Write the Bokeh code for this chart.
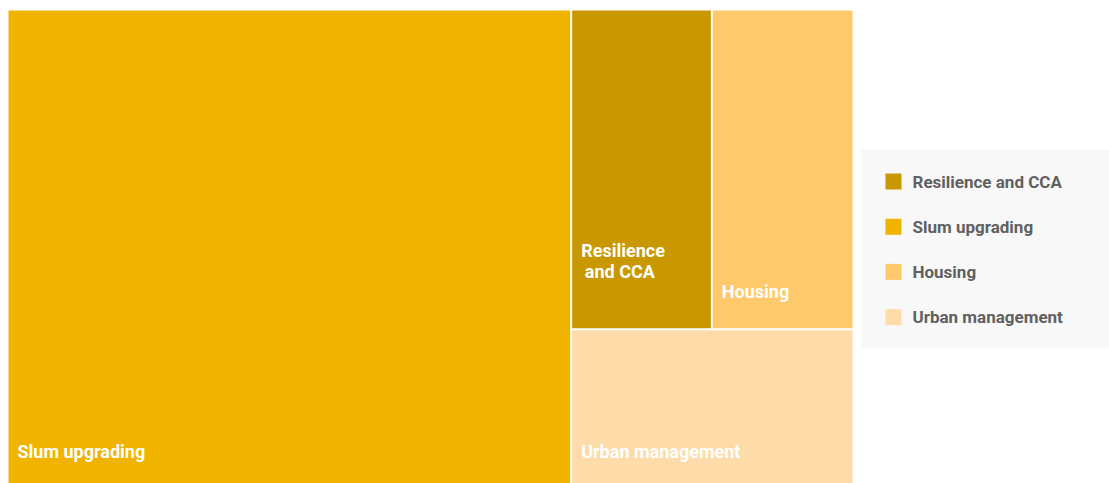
from bokeh.plotting import figure
from bokeh.models import Range1d, ColumnDataSource
from bokeh.core.properties import value
from bokeh.embed import file_html
from bokeh.resources import INLINE

# ---- data ----
categories = ["Slum upgrading", "Resilience and CCA", "Housing", "Urban management"]
values = [60, 10, 10, 10]
colors = ["#F0B400", "#C99700", "#FEC96B", "#FEDCAA"]
labels = ["Slum upgrading", "Resilience\n\u2009and CCA", "Housing", "Urban management"]
legend_order = ["Resilience and CCA", "Slum upgrading", "Housing", "Urban management"]

# ---- layout (page pixel coordinates) ----
W, H = 1109, 483
X0, Y0, X1, Y1 = 8.0, 10.0, 852.0, 488.0   # treemap box
GAP = 1.0

total = sum(values)
rects = []
# first item: vertical slice over full height
xs = X0 + (X1 - X0) * values[0] / total
rects.append([X0, Y0, xs, Y1])
# remaining: top row (items 1,2) side by side, bottom item 3
rest = sum(values[1:])
ys = Y0 + (Y1 - Y0) * (values[1] + values[2]) / rest
xm = xs + (X1 - xs) * values[1] / (values[1] + values[2])
rects.append([xs, Y0, xm, ys])
rects.append([xm, Y0, X1, ys])
rects.append([xs, ys, X1, Y1])

def inset(r):
    l, t, rr, b = r
    return [l + (GAP if l > X0 else 0), t + (GAP if t > Y0 else 0),
            rr - (GAP if rr < X1 else 0), b - (GAP if b < Y1 else 0)]

rects = [inset(r) for r in rects]

p = figure(width=W, height=H, output_backend="svg", toolbar_location=None,
           x_range=Range1d(0, W), y_range=Range1d(H, 0),
           x_axis_type=None, y_axis_type=None, min_border=0)
p.grid.visible = False
p.outline_line_color = None
p.background_fill_color = "white"
p.border_fill_color = "white"

src = ColumnDataSource(dict(
    left=[r[0] for r in rects], top=[r[1] for r in rects],
    right=[r[2] for r in rects], bottom=[r[3] for r in rects],
    color=colors, name=categories))
p.quad(left="left", right="right", top="top", bottom="bottom", source=src,
       fill_color="color", line_color=None)

# labels inside tiles
pad_x = 9
offsets = [37, 67, 37, 37]
lab_src = ColumnDataSource(dict(
    x=[r[0] + pad_x for r in rects],
    y=[r[3] - o for r, o in zip(rects, offsets)],
    text=labels))
p.text(x="x", y="y", text="text", source=lab_src, text_color="white",
       text_font=value("Roboto"), text_font_style="bold", text_font_size="18px",
       text_baseline="middle", text_align="left", text_line_height=1.0)

# legend (manual)
LX0, LY0, LX1, LY1 = 861, 149, W, 348
p.quad(left=[LX0], right=[LX1], top=[LY0], bottom=[LY1], fill_color="#F8F8F8", line_color=None)
color_of = dict(zip(categories, colors))
row_y = [LY0 + 32 + 45.2 * i for i in range(len(legend_order))]
leg_src = ColumnDataSource(dict(
    x=[893] * len(legend_order), tx=[912] * len(legend_order), y=row_y,
    text=legend_order, color=[color_of[c] for c in legend_order]))
p.rect(x="x", y="y", width=16, height=16, width_units="screen", height_units="screen",
       source=leg_src, fill_color="color", line_color=None)
p.text(x="tx", y="y", text="text", source=leg_src, text_color="#606060",
       text_font=value("Roboto"), text_font_style="bold", text_font_size="17px",
       text_baseline="middle", text_align="left")

open("out.html", "w").write(file_html(p, INLINE))
